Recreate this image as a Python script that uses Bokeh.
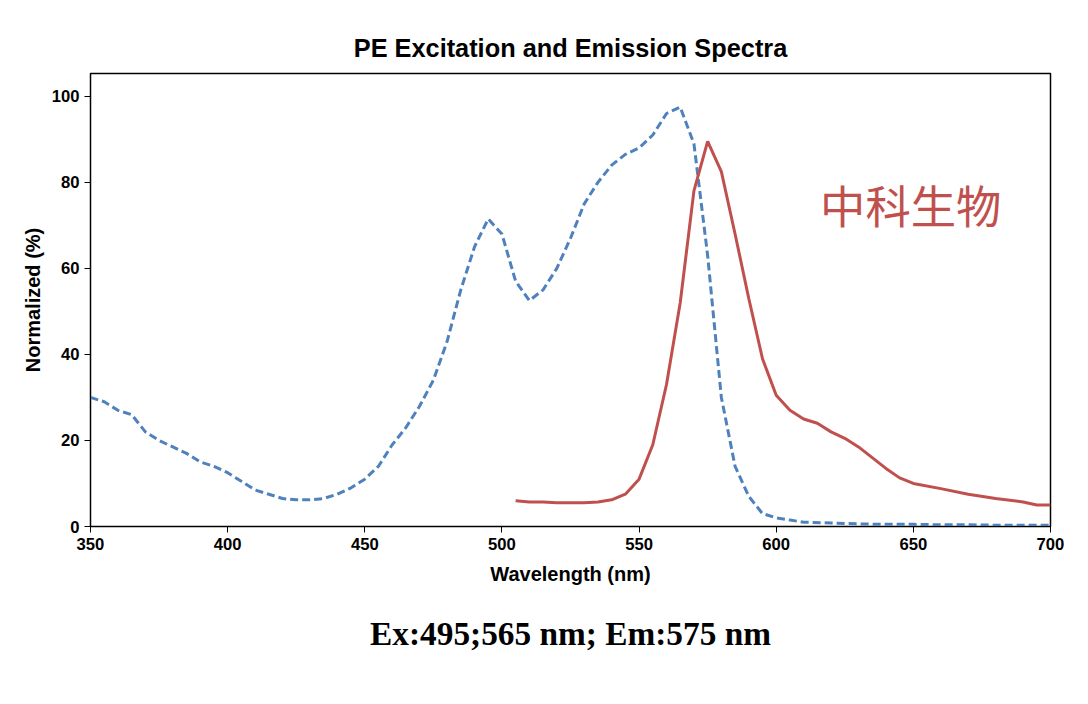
from bokeh.plotting import figure
from bokeh.embed import file_html
from bokeh.resources import INLINE
from bokeh.models import Title, Label, FixedTicker, Range1d

ex_wl = [350,355,360,365,370,375,380,385,390,395,400,405,410,415,420,425,430,435,440,445,450,455,460,465,470,475,480,485,490,495,500,505,510,515,520,525,530,535,540,545,550,555,560,565,570,575,580,585,590,595,600,605,610,620,630,640,650,660,670,680,690,700]
ex_val = [30,29,27,26,22,20,18.5,17,15,14,12.5,10.5,8.5,7.5,6.5,6.2,6.2,6.5,7.5,9,11,14,19,23,28,34,43,55,65,71.5,68,57,52.5,55,60,67,75,80,84,86.5,88,91,96,97.5,89,63,30,14,7,3,2,1.5,1,0.8,0.6,0.5,0.5,0.4,0.4,0.3,0.3,0.3]
em_wl = [505,510,515,520,525,530,535,540,545,550,555,560,565,570,575,580,585,590,595,600,605,610,615,620,625,630,635,640,645,650,660,670,680,690,695,700]
em_val = [6,5.7,5.7,5.5,5.5,5.5,5.7,6.2,7.5,11,19,33,52,78,89.5,82.5,68,53,39,30.5,27,25,24,22,20.5,18.5,16,13.5,11.3,10,8.8,7.5,6.5,5.7,5,5]
x_ticks = [350,400,450,500,550,600,650,700]
y_ticks = [0,20,40,60,80,100]

p = figure(width=1072, height=688, output_backend="svg", toolbar_location=None,
           x_range=Range1d(350, 700), y_range=Range1d(0, 105.3))
p.min_border_left = 90
p.min_border_right = 22
p.min_border_top = 73
p.min_border_bottom = 162
p.xgrid.visible = False
p.ygrid.visible = False
p.outline_line_color = "black"
p.outline_line_width = 1.5
p.background_fill_color = "white"

p.title.text = "PE Excitation and Emission Spectra"
p.title.align = "center"
p.title.text_font = "Liberation Sans"
p.title.text_font_size = "19pt"
p.title.text_font_style = "bold"
p.title.text_color = "black"
p.title.standoff = 24

for ax in (p.xaxis[0], p.yaxis[0]):
    ax.major_label_text_font = "Liberation Sans"
    ax.major_label_text_font_style = "bold"
    ax.major_label_text_font_size = "12.5pt"
    ax.major_label_text_color = "black"
    ax.axis_label_text_font = "Liberation Sans"
    ax.axis_label_text_font_style = "bold"
    ax.axis_label_text_font_size = "15pt"
    ax.axis_label_text_color = "black"
    ax.minor_tick_line_color = None
    ax.major_tick_in = 0
    ax.major_tick_out = 6
    ax.axis_line_color = "black"
p.xaxis.ticker = FixedTicker(ticks=x_ticks)
p.yaxis.ticker = FixedTicker(ticks=y_ticks)
p.xaxis.axis_label = "Wavelength (nm)"
p.yaxis.axis_label = "Normalized (%)"
p.xaxis.axis_label_standoff = 10

p.line(ex_wl, ex_val, line_color="#4F81BD", line_width=3, line_dash="8 4")
p.line(em_wl, em_val, line_color="#C0504D", line_width=3)

p.add_layout(Label(x=616, y=75, text="中科生物", text_font="Noto Sans CJK SC",
                   text_font_size="34pt", text_color="#C0504D", text_baseline="middle"))

p.add_layout(Title(text="Ex:495;565 nm; Em:575 nm", align="center",
                   text_font="Liberation Serif", text_font_size="25pt",
                   text_color="black", text_font_style="bold", standoff=50), "below")

open("out.html", "w").write(file_html(p, INLINE))
